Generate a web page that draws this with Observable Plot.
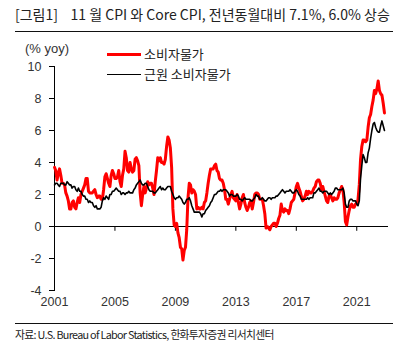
<!DOCTYPE html>
<html><head><meta charset="utf-8">
<script src="https://cdn.jsdelivr.net/npm/d3@7"></script>
<script src="https://cdn.jsdelivr.net/npm/@observablehq/plot@0.6"></script>
<style>
body{margin:0;background:#fff;}
#wrap{position:relative;width:409px;height:352px;overflow:hidden;font-family:"Noto Sans CJK KR","Noto Sans",sans-serif;color:#222;}
.hr{position:absolute;left:15px;width:378px;height:0;border-top:1.5px solid #111;}
#title{position:absolute;left:15px;top:4px;font-size:14px;letter-spacing:0px;white-space:nowrap;line-height:20px;}
#chart{position:absolute;left:0;top:40px;}
#unit{position:absolute;left:25px;top:41px;font-family:"Liberation Sans",Arial,sans-serif;font-size:13px;color:#333;white-space:nowrap;}
.lg{position:absolute;left:107px;width:34px;height:0;}
.lt{position:absolute;left:144px;font-size:13px;white-space:nowrap;line-height:16px;color:#222;}
#src{position:absolute;left:15px;top:326px;font-size:10.8px;letter-spacing:-0.7px;white-space:nowrap;line-height:16px;color:#222;}
</style></head><body>
<div id="wrap">
  <div id="title">[그림1]&nbsp;&nbsp;&nbsp;&nbsp;11 월 CPI 와 Core CPI, 전년동월대비 7.1%, 6.0% 상승</div>
  <div class="hr" style="top:31px"></div>
  <div id="chart"></div>
  <div id="unit">(% yoy)</div>
  <div class="lg" style="top:53px;border-top:3px solid #ff0000"></div>
  <div class="lt" style="top:46px">소비자물가</div>
  <div class="lg" style="top:73.5px;border-top:1.6px solid #000"></div>
  <div class="lt" style="top:66px">근원 소비자물가</div>
  <div class="hr" style="top:323px"></div>
  <div id="src">자료: U.S. Bureau of Labor Statistics, 한화투자증권 리서치센터</div>
</div>
<script>
const startYear = 2001;
const cpiLabel = "소비자물가";
const coreLabel = "근원 소비자물가";
const cpi = [
 3.7,3.5,2.9,3.3,3.6,3.2,2.7,2.7,2.6,2.1,1.9,1.6,
 1.1,1.1,1.5,1.6,1.2,1.1,1.5,1.8,1.5,2.0,2.2,2.4,
 2.6,3.0,3.0,2.2,2.1,2.1,2.1,2.2,2.3,2.0,1.8,1.9,
 1.9,1.7,1.7,2.3,3.1,3.3,3.0,2.7,2.5,3.2,3.5,3.3,
 3.0,3.0,3.1,3.5,2.8,2.5,3.2,3.6,4.7,4.3,3.5,3.4,
 4.0,3.6,3.4,3.5,4.2,4.3,4.1,3.8,2.1,1.3,2.0,2.5,
 2.1,2.4,2.8,2.6,2.7,2.7,2.4,2.0,2.8,3.5,4.3,4.1,
 4.3,4.0,4.0,3.9,4.2,5.0,5.6,5.4,4.9,3.7,1.1,0.1,
 0.0,0.2,-0.4,-0.7,-1.3,-1.4,-2.1,-1.5,-1.3,-0.2,1.8,2.7,
 2.6,2.1,2.3,2.2,2.0,1.1,1.2,1.1,1.1,1.2,1.1,1.5,
 1.6,2.1,2.7,3.2,3.6,3.6,3.6,3.8,3.9,3.5,3.4,3.0,
 2.9,2.9,2.7,2.3,1.7,1.7,1.4,1.7,2.0,2.2,1.8,1.7,
 1.6,2.0,1.5,1.1,1.4,1.8,2.0,1.5,1.2,1.0,1.2,1.5,
 1.6,1.1,1.5,2.0,2.1,2.1,2.0,1.7,1.7,1.7,1.3,0.8,
 -0.1,0.0,-0.1,-0.2,0.0,0.1,0.2,0.2,0.0,0.2,0.5,0.7,
 1.4,1.0,0.9,1.1,1.0,1.0,0.8,1.1,1.5,1.6,1.7,2.1,
 2.5,2.7,2.4,2.2,1.9,1.6,1.7,1.9,2.2,2.0,2.2,2.1,
 2.1,2.2,2.4,2.5,2.8,2.9,2.9,2.7,2.3,2.5,2.2,1.9,
 1.6,1.5,1.9,2.0,1.8,1.6,1.8,1.7,1.7,1.8,2.1,2.3,
 2.5,2.3,1.5,0.3,0.1,0.6,1.0,1.3,1.4,1.2,1.2,1.4,
 1.4,1.7,2.6,4.2,5.0,5.4,5.4,5.3,5.4,6.2,6.8,7.0,
 7.5,7.9,8.5,8.3,8.6,9.1,8.5,8.3,8.2,7.7,7.1
];
const core = [
 2.6,2.7,2.7,2.6,2.5,2.7,2.7,2.7,2.6,2.6,2.8,2.7,
 2.6,2.6,2.4,2.5,2.5,2.3,2.2,2.4,2.2,2.2,2.0,1.9,
 1.9,1.7,1.7,1.5,1.6,1.5,1.5,1.3,1.2,1.3,1.1,1.1,
 1.1,1.2,1.6,1.8,1.7,1.9,1.8,1.7,2.0,2.0,2.2,2.2,
 2.3,2.4,2.3,2.2,2.2,2.0,2.1,2.1,2.0,2.1,2.1,2.2,
 2.1,2.1,2.1,2.3,2.4,2.6,2.7,2.8,2.9,2.7,2.6,2.6,
 2.7,2.7,2.5,2.3,2.2,2.2,2.2,2.1,2.1,2.2,2.3,2.4,
 2.5,2.3,2.4,2.3,2.3,2.4,2.5,2.5,2.5,2.2,2.0,1.8,
 1.7,1.8,1.8,1.9,1.8,1.7,1.5,1.4,1.5,1.7,1.7,1.8,
 1.6,1.3,1.1,0.9,0.9,0.9,0.9,0.9,0.8,0.6,0.8,0.8,
 1.0,1.1,1.2,1.3,1.5,1.6,1.8,2.0,2.0,2.1,2.2,2.2,
 2.3,2.2,2.3,2.3,2.3,2.2,2.1,1.9,2.0,2.0,1.9,1.9,
 1.9,2.0,1.9,1.7,1.7,1.6,1.7,1.8,1.7,1.7,1.7,1.7,
 1.6,1.6,1.7,1.8,2.0,1.9,1.9,1.7,1.7,1.8,1.7,1.6,
 1.6,1.7,1.8,1.8,1.7,1.8,1.8,1.8,1.9,1.9,2.0,2.1,
 2.2,2.3,2.2,2.1,2.2,2.2,2.2,2.3,2.2,2.1,2.1,2.2,
 2.3,2.2,2.0,1.9,1.7,1.7,1.7,1.7,1.7,1.8,1.7,1.8,
 1.8,1.8,2.1,2.1,2.2,2.3,2.4,2.2,2.2,2.1,2.2,2.2,
 2.2,2.1,2.0,2.1,2.0,2.1,2.2,2.4,2.4,2.3,2.3,2.3,
 2.3,2.4,2.1,1.4,1.2,1.2,1.6,1.7,1.7,1.6,1.6,1.6,
 1.4,1.3,1.6,3.0,3.8,4.5,4.3,4.0,4.0,4.6,4.9,5.5,
 6.0,6.4,6.5,6.2,6.0,5.9,5.9,6.3,6.6,6.3,6.0
];
const xTicks = [2001, 2005, 2009, 2013, 2017, 2021];
const yTicks = [-4, -2, 0, 2, 4, 6, 8, 10];

const cpiRows = cpi.map((v, i) => ({t: startYear + i / 12, v, s: cpiLabel}));
const coreRows = core.map((v, i) => ({t: startYear + i / 12, v, s: coreLabel}));

const chart = Plot.plot({
  width: 409, height: 275,
  marginLeft: 54, marginRight: 21, marginTop: 26, marginBottom: 25,
  x: {domain: [2001, 2023.1]},
  y: {domain: [-4, 10]},
  style: {fontFamily: "'Liberation Sans', Arial, sans-serif", fontSize: "12.5px", color: "#333", background: "transparent"},
  marks: [
    Plot.axisX({ticks: xTicks, tickFormat: d => String(d), tickSize: 0, tickPadding: 7, anchor: "bottom", label: null}),
    Plot.axisY({ticks: yTicks, tickFormat: d => String(d), tickSize: 5, tickPadding: 8, label: null, stroke: "#000"}),
    Plot.frame({anchor: "left", stroke: "#000"}),
    Plot.ruleY([0], {stroke: "#000", strokeWidth: 1.2}),
    Plot.ruleX(xTicks.slice(1), {y1: 0, y2: -0.3, stroke: "#000"}),
    Plot.line(cpiRows, {x: "t", y: "v", stroke: "#ff0000", strokeWidth: 3}),
    Plot.line(coreRows, {x: "t", y: "v", stroke: "#000", strokeWidth: 1.6})
  ]
});
document.getElementById("chart").appendChild(chart);
</script>
</body></html>
